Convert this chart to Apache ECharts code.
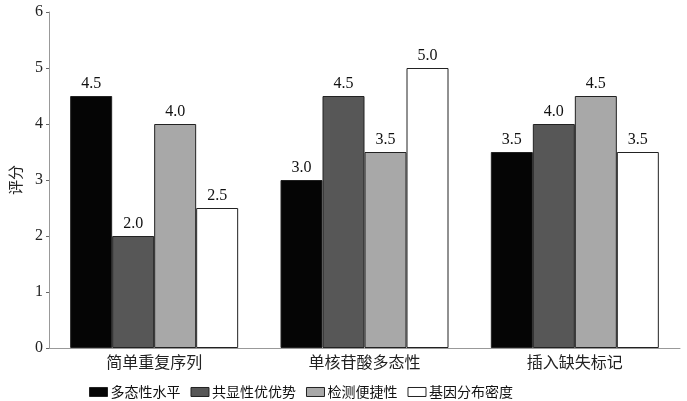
<!DOCTYPE html>
<html><head><meta charset="utf-8">
<script src="https://cdn.jsdelivr.net/npm/echarts@6/dist/echarts.min.js"></script>
<style>html,body{margin:0;padding:0;background:#fff}#c{width:687px;height:401px}</style>
</head><body><div id="c"></div>
<script>
const categories = ['简单重复序列', '单核苷酸多态性', '插入缺失标记'];
const seriesNames = ['多态性水平', '共显性优优势', '检测便捷性', '基因分布密度'];
const polymorphism = [4.5, 3.0, 3.5];
const codominance = [2.0, 4.5, 4.0];
const convenience = [4.0, 3.5, 4.5];
const density = [2.5, 5.0, 3.5];
const yTicks = [0, 1, 2, 3, 4, 5, 6];

const colors = ['#050505', '#575757', '#a8a8a8', '#ffffff'];
const dataSets = [polymorphism, codominance, convenience, density];
const serif = '"Liberation Serif","DejaVu Serif",serif';
const cjk = '"Noto Sans CJK SC","Liberation Serif",serif';

const chart = echarts.init(document.getElementById('c'));
chart.setOption({
  animation: false,
  backgroundColor: '#fff',
  grid: { left: 46, right: 7, top: 12, bottom: 53 },
  legend: {
    left: 84, top: 380, itemWidth: 18, itemHeight: 9, itemGap: 10,
    textStyle: { fontFamily: cjk, fontSize: 14, color: '#111', padding: [0, 0, 0, -2] },
    data: seriesNames.map((n, i) => ({ name: n, icon: 'rect',
      itemStyle: { color: colors[i], borderColor: '#222', borderWidth: 1 } }))
  },
  xAxis: {
    type: 'category', data: categories,
    axisLine: { lineStyle: { color: '#999', width: 1 } },
    axisTick: { show: false },
    axisLabel: { fontFamily: cjk, fontSize: 16, color: '#222', margin: 6 }
  },
  yAxis: {
    type: 'value', min: yTicks[0], max: yTicks[yTicks.length - 1], interval: 1,
    name: '评分', nameLocation: 'middle', nameGap: 26, nameRotate: 90,
    nameTextStyle: { fontFamily: cjk, fontSize: 15, color: '#222' },
    axisLine: { show: true, lineStyle: { color: '#999', width: 1 } },
    axisTick: { show: true, length: 3, lineStyle: { color: '#666' } },
    axisLabel: { fontFamily: serif, fontSize: 16, color: '#222', margin: 6 },
    splitLine: { show: false }
  },
  series: seriesNames.map((n, i) => ({
    name: n, type: 'bar', data: dataSets[i], barWidth: 42, barGap: '0%',
    itemStyle: { color: colors[i], borderColor: '#222', borderWidth: 1 },
    label: { show: true, position: 'top', distance: 4, fontFamily: serif, fontSize: 16, color: '#111',
      formatter: p => p.value.toFixed(1) }
  }))
});
</script></body></html>
